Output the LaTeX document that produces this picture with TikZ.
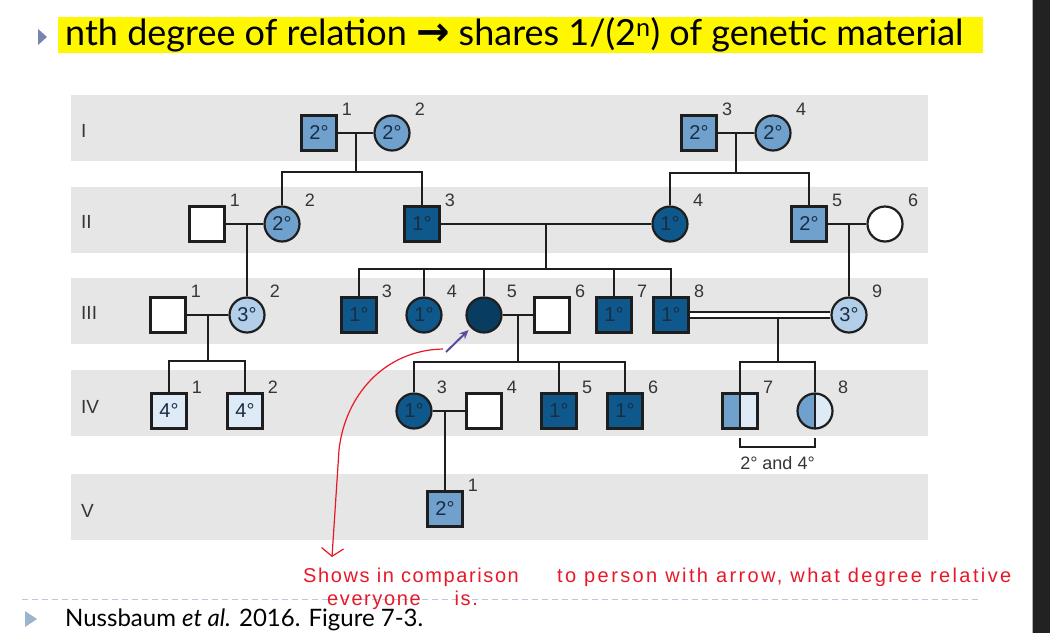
\documentclass[tikz,border=0pt]{standalone}
\usepackage{fontspec}
\setmainfont{Liberation Sans}
\newfontfamily\slidefont{Lato}
\newfontfamily\arrowfont{DejaVu Sans}
\newfontfamily\handfont[LetterSpace=8]{Liberation Sans}
\newfontfamily\handwidefont[LetterSpace=12]{Liberation Sans}
\usetikzlibrary{positioning}
\usetikzlibrary{calc}
\usetikzlibrary{arrows.meta}
\definecolor{deg1}{RGB}{14,88,140}
\definecolor{deg2}{RGB}{112,160,204}
\definecolor{deg3}{RGB}{178,206,232}
\definecolor{deg4}{RGB}{222,234,246}
\definecolor{probcol}{RGB}{8,60,96}
\definecolor{band}{RGB}{230,230,230}
\definecolor{ink}{RGB}{30,30,30}
\definecolor{degtext}{RGB}{26,45,70}
\definecolor{hl}{RGB}{255,247,0}
\definecolor{bullet}{RGB}{120,132,176}
\definecolor{footbullet}{RGB}{157,180,207}
\definecolor{dashcol}{RGB}{184,200,220}
\definecolor{pen}{RGB}{232,24,40}
\definecolor{pointer}{RGB}{92,74,160}
\definecolor{bar}{RGB}{34,34,34}

\begin{document}
\begin{tikzpicture}[x=1pt, y=-1pt,
    line/.style={draw=ink, line width=2pt},
    male/.style={rectangle, draw=ink, line width=2.2pt, minimum size=35pt, inner sep=0pt,
        text=degtext, font=\fontsize{20}{22}\selectfont},
    female/.style={male, circle},
    f0/.style={fill=white},
    f1/.style={fill=deg1},
    f2/.style={fill=deg2},
    f3/.style={fill=deg3},
    f4/.style={fill=deg4},
    fp/.style={fill=probcol},
    fs/.style={fill=deg4, path picture={
        \fill[deg2] (path picture bounding box.south west) rectangle (path picture bounding box.north);
        \draw[ink, line width=2pt] (path picture bounding box.south) -- (path picture bounding box.north);}},
    num/.style={text=ink!90, font=\fontsize{18}{20}\selectfont, inner sep=0pt},
    gen/.style={text=ink!90, font=\fontsize{19}{21}\selectfont, inner sep=0pt, anchor=west},
    hand/.style={text=pen, font=\handfont\fontsize{20}{22}\selectfont, inner sep=0pt, anchor=west}]
    \useasboundingbox (0,0) rectangle (1050,633);
    \fill[white] (0,0) rectangle (1050,633);
    \fill[bar] (1033,0) rectangle (1050,633);
    \draw[gray!60, line width=0.7pt] (1032.5,0) -- (1032.5,633);

    % slide title
    \fill[bullet] (38,29) -- (47,37) -- (38,45) -- cycle;
    \node[anchor=west, fill=hl, inner xsep=7pt, inner ysep=1pt, font=\slidefont\fontsize{36}{38}\selectfont]
        (title) at (58,35) {nth degree of relation {\arrowfont\bfseries\fontsize{40}{40}\selectfont →} shares 1/(2\textsuperscript{n}) of genetic material\hspace*{12pt}};

    % generation bands
    \foreach \t/\b in {95/161, 187/253, 278/344, 370/436, 474/540}
        \fill[band] (71,\t) rectangle (928,\b);
    \foreach \r/\y in {I/131, II/222, III/313, IV/407, V/511}
        \node[gen] (gen\r) at (81,\y) {\r};

    % individuals: name/x/y/shape/fill/degree/number
    \foreach \n/\x/\y/\s/\c/\t/\k in {
        I1/319/133/male/f2/2°/1, I2/392/133/female/f2/2°/2,
        I3/699/133/male/f2/2°/3, I4/773/133/female/f2/2°/4,
        II1/207/224/male/f0//1, II2/282/224/female/f2/2°/2, II3/422/224/male/f1/1°/3,
        II4/670/224/female/f1/1°/4, II5/809/224/male/f2/2°/5, II6/885/224/female/f0//6,
        III1/168/315/male/f0//1, III2/247/315/female/f3/3°/2, III3/359/315/male/f1/1°/3,
        III4/424/315/female/f1/1°/4, III5/484/315/female/fp//5, III6/552/315/male/f0//6,
        III7/614/315/male/f1/1°/7, III8/671/315/male/f1/1°/8, III9/849/315/female/f3/3°/9,
        IV1/169/411/male/f4/4°/1, IV2/245/411/male/f4/4°/2, IV3/414/411/female/f1/1°/3,
        IV4/484/411/male/f0//4, IV5/559/411/male/f1/1°/5, IV6/625/411/male/f1/1°/6,
        IV7/740/411/male/fs//7, IV8/815/411/female/fs//8,
        V1/445/509/male/f2/2°/1} {
        \node[\s, \c] (\n) at (\x,\y) {\t};
        \node[num] (\n-no) at (\x+28,\y-24) {\k};
    }

    % I -> II
    \draw[line] (I1) -- (I2);
    \coordinate (m1) at ($(I1)!0.5!(I2)$);
    \draw[line] (m1) -- ++(0,39) coordinate (s1);
    \draw[line] (II2.north) -- (II2.north |- s1) -- (II3.north |- s1) -- (II3.north);
    \draw[line] (I3) -- (I4);
    \coordinate (m2) at ($(I3)!0.5!(I4)$);
    \draw[line] (m2) -- ++(0,40) coordinate (s2);
    \draw[line] (II4.north) -- (II4.north |- s2) -- (II5.north |- s2) -- (II5.north);

    % II -> III
    \draw[line] (II1) -- (II2);
    \coordinate (m3) at (II1 -| III2);
    \draw[line] (m3) -- (III2.north);
    \draw[line] (II3) -- (II4);
    \coordinate (m4) at ($(II3)!0.5!(II4)$);
    \draw[line] (m4) -- ++(0,45) coordinate (s4);
    \draw[line] (III3.north) -- (III3.north |- s4) -- (III8.north |- s4) -- (III8.north);
    \foreach \k in {III4, III5, III7}
        \draw[line] (\k.north) -- (\k.north |- s4);
    \draw[line] (II5) -- (II6);
    \coordinate (m5) at (II5 -| III9);
    \draw[line] (m5) -- (III9.north);

    % III -> IV
    \draw[line] (III1) -- (III2);
    \coordinate (m6) at ($(III1)!0.5!(III2)$);
    \draw[line] (m6) -- ++(0,46) coordinate (s6);
    \draw[line] (IV1.north) -- (IV1.north |- s6) -- (IV2.north |- s6) -- (IV2.north);
    \draw[line] (III5) -- (III6);
    \coordinate (m7) at ($(III5)!0.5!(III6)$);
    \draw[line] (m7) -- ++(0,47) coordinate (s7);
    \draw[line] (IV3.north) -- (IV3.north |- s7) -- (IV6.north |- s7) -- (IV6.north);
    \draw[line] (IV5.north) -- (IV5.north |- s7);
    \path ($(IV7)!0.5!(IV8)$) coordinate (c8);
    \coordinate (m8) at (c8 |- III8);
    \draw[line] (m8) -- ++(0,47) coordinate (s8);
    \draw[line] (IV7.north) -- (IV7.north |- s8) -- (IV8.north |- s8) -- (IV8.north);
    \draw[line, double=white, double distance=4pt] (III8) -- (III9);

    % IV -> V
    \draw[line] (IV3) -- (IV4);
    \coordinate (m9) at (IV3 -| V1);
    \draw[line] (m9) -- (V1.north);

    % bracket for IV-7 and IV-8
    \draw[line] ([yshift=-8pt]IV7.south) -- ([yshift=-17pt]IV7.south) -- ([yshift=-17pt]IV8.south) -- ([yshift=-8pt]IV8.south);
    \node[num] (both) at ($(IV7.south)!0.5!(IV8.south)+(0,33)$) {2° and 4°};

    % proband pointer and notes
    \coordinate (tail) at (446,352);
    \draw[pointer, line width=2pt, -{Stealth[length=9pt,width=8pt]}, shorten >=3pt] (tail) -- (III5);
    \draw[dashcol, line width=0.9pt, dash pattern=on 6pt off 4pt] (22,599) -- (978,599);
    \node[hand] (note1) at (303,577) {Shows in comparison};
    \node[hand, font=\handwidefont\fontsize{20}{22}\selectfont] (note2) at (557,577) {to person with arrow, what degree relative};
    \node[hand] (note3) at (327,600) {everyone\hspace{34pt}is.};
    \coordinate (tip) at (332,557);
    \draw[pen, line width=1.2pt, -{Straight Barb[length=8pt,width=22pt]}]
        (443,349) .. controls (385,350) and (345,395) .. (339,450) -- (tip);

    % source
    \fill[footbullet] (25,611) -- (37,619) -- (25,627) -- cycle;
    \node[anchor=west, inner sep=0pt, font=\slidefont\fontsize{24}{28}\selectfont] (source) at (65,620)
        {Nussbaum \textit{et al.} 2016. Figure 7-3.};
\end{tikzpicture}
\end{document}
